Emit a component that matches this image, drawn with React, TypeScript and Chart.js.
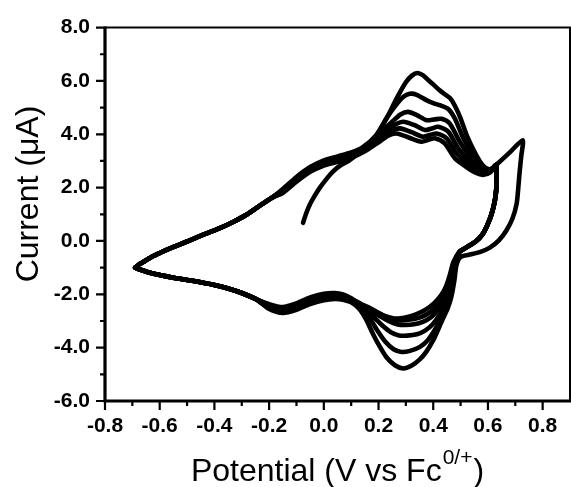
import { useEffect, useRef } from "react";
import { Chart, registerables } from "chart.js";

Chart.register(...registerables);

type Pt = [number, number];

// Axis limits (potential in V, current in µA)
const X_MIN = -0.8;
const X_MAX = 0.9;
const Y_MIN = -6;
const Y_MAX = 8;
const X_MAJOR = [-0.8, -0.6, -0.4, -0.2, 0, 0.2, 0.4, 0.6, 0.8];
const X_MINOR = [-0.7, -0.5, -0.3, -0.1, 0.1, 0.3, 0.5, 0.7];
const Y_MAJOR = [-6, -4, -2, 0, 2, 4, 6, 8];
const Y_MINOR = [-5, -3, -1, 1, 3, 5, 7];

const X_TITLE = "Potential (V vs Fc";
const X_TITLE_SUP = "0/+";
const X_TITLE_END = ")";
const Y_TITLE = "Current (\u03bcA)";

// First sweep, starting from the open-circuit potential
const initialScan: Pt[] = [
  [-0.076, 0.68], [-0.064, 1.05], [-0.051, 1.37], [-0.033, 1.7], [-0.015, 1.99],
  [0.01, 2.33], [0.034, 2.61], [0.06, 2.83], [0.09, 3.0], [0.11, 3.15],
];

// Anodic sweep from the negative vertex, common to cycles 2-6
const anodicLeft: Pt[] = [
  [-0.69, -1.0], [-0.675, -0.88], [-0.65, -0.72], [-0.625, -0.57], [-0.6, -0.45],
  [-0.56, -0.27], [-0.5, -0.02], [-0.44, 0.24], [-0.38, 0.48], [-0.33, 0.72],
  [-0.28, 1.0], [-0.23, 1.35], [-0.19, 1.62],
];

// Oxidation waves, one per cycle
const anodic1: Pt[] = [
  [0.13, 3.32], [0.16, 3.62], [0.193, 3.97], [0.229, 4.59], [0.266, 5.34], [0.3, 5.95],
  [0.322, 6.2], [0.342, 6.3], [0.362, 6.22], [0.38, 6.05], [0.4, 5.87], [0.42, 5.68],
  [0.44, 5.52], [0.462, 5.35], [0.48, 5.05], [0.5, 4.6], [0.522, 3.97], [0.558, 3.2],
  [0.58, 2.85], [0.6, 2.7], [0.615, 2.72], [0.63, 2.85],
];
const anodic2: Pt[] = [
  [-0.15, 1.95], [-0.1, 2.4], [-0.05, 2.77], [0.0, 3.02], [0.05, 3.17], [0.1, 3.32],
  [0.14, 3.5], [0.19, 3.95], [0.229, 4.6], [0.26, 5.05], [0.29, 5.4], [0.314, 5.52],
  [0.34, 5.48], [0.375, 5.28], [0.4, 5.17], [0.424, 5.09], [0.455, 4.95], [0.479, 4.59],
  [0.51, 3.85], [0.552, 3.1], [0.575, 2.78], [0.595, 2.64], [0.615, 2.7], [0.63, 2.85],
];
const anodic3: Pt[] = [
  [-0.15, 1.9], [-0.1, 2.34], [-0.05, 2.71], [0.0, 2.96], [0.05, 3.11], [0.1, 3.27],
  [0.15, 3.52], [0.2, 3.98], [0.25, 4.47], [0.28, 4.74], [0.308, 4.84], [0.34, 4.72],
  [0.375, 4.53], [0.405, 4.56], [0.43, 4.58], [0.46, 4.41], [0.497, 3.72], [0.546, 3.0],
  [0.57, 2.7], [0.59, 2.6], [0.612, 2.66], [0.63, 2.85],
];
const anodic4: Pt[] = [
  [-0.15, 1.87], [-0.1, 2.3], [-0.05, 2.67], [0.0, 2.92], [0.05, 3.07], [0.1, 3.22],
  [0.15, 3.46], [0.2, 3.86], [0.25, 4.3], [0.29, 4.47], [0.33, 4.35], [0.369, 4.16],
  [0.395, 4.22], [0.418, 4.28], [0.455, 4.1], [0.491, 3.48], [0.54, 2.9], [0.565, 2.65],
  [0.588, 2.56], [0.61, 2.63], [0.63, 2.85],
];
const anodic5: Pt[] = [
  [-0.15, 1.84], [-0.1, 2.26], [-0.05, 2.63], [0.0, 2.87], [0.05, 3.02], [0.1, 3.17],
  [0.15, 3.41], [0.2, 3.78], [0.24, 4.1], [0.278, 4.22], [0.32, 4.08], [0.363, 3.91],
  [0.39, 3.98], [0.412, 4.03], [0.449, 3.85], [0.485, 3.29], [0.53, 2.85], [0.56, 2.6],
  [0.585, 2.52], [0.61, 2.6], [0.63, 2.85],
];
const anodic6: Pt[] = [
  [-0.15, 1.8], [-0.1, 2.22], [-0.05, 2.59], [0.0, 2.83], [0.05, 2.97], [0.1, 3.12],
  [0.15, 3.36], [0.2, 3.7], [0.235, 3.95], [0.266, 4.03], [0.31, 3.88], [0.357, 3.72],
  [0.385, 3.8], [0.406, 3.85], [0.442, 3.66], [0.479, 3.1], [0.52, 2.78], [0.555, 2.56],
  [0.582, 2.48], [0.608, 2.57], [0.63, 2.85],
];

// Return sweeps at the positive end: the first cycle runs out to 0.73 V
const reverseOuter: Pt[] = [
  [0.68, 3.32], [0.727, 3.78], [0.722, 3.2], [0.716, 2.6], [0.711, 2.0], [0.705, 1.4],
  [0.69, 0.85], [0.668, 0.4], [0.64, 0.02], [0.607, -0.25], [0.57, -0.42], [0.53, -0.52],
  [0.5, -0.6],
];
const reverseInner: Pt[] = [
  [0.632, 2.4], [0.631, 2.0], [0.625, 1.5], [0.613, 1.0], [0.598, 0.6], [0.58, 0.25],
  [0.555, -0.02], [0.52, -0.25], [0.495, -0.42],
];

// Reduction waves, one per cycle
const cathodic1: Pt[] = [
  [0.485, -0.9], [0.477, -1.5], [0.466, -2.1], [0.452, -2.55], [0.436, -2.9], [0.418, -3.32],
  [0.4, -3.72], [0.375, -4.15], [0.35, -4.45], [0.32, -4.68], [0.29, -4.78], [0.26, -4.66],
  [0.229, -4.36], [0.2, -3.88], [0.178, -3.45], [0.155, -2.95], [0.13, -2.55], [0.1, -2.3],
  [0.07, -2.2], [0.04, -2.17], [0.0, -2.22], [-0.05, -2.37], [-0.1, -2.58], [-0.15, -2.7],
  [-0.2, -2.55],
];
const cathodic2: Pt[] = [
  [0.483, -0.88], [0.473, -1.45], [0.462, -2.02], [0.447, -2.48], [0.428, -2.92], [0.405, -3.35],
  [0.38, -3.72], [0.35, -3.98], [0.315, -4.12], [0.284, -4.16], [0.255, -4.06], [0.225, -3.78],
  [0.195, -3.35], [0.165, -2.85], [0.135, -2.5], [0.1, -2.25], [0.07, -2.15], [0.04, -2.12],
  [0.0, -2.16], [-0.05, -2.3], [-0.1, -2.52], [-0.15, -2.64], [-0.2, -2.5],
];
const cathodic3: Pt[] = [
  [0.48, -0.85], [0.47, -1.4], [0.458, -1.95], [0.442, -2.38], [0.422, -2.78], [0.398, -3.12],
  [0.37, -3.36], [0.34, -3.5], [0.305, -3.55], [0.275, -3.54], [0.245, -3.42], [0.215, -3.18],
  [0.185, -2.88], [0.155, -2.6], [0.125, -2.4], [0.1, -2.22], [0.07, -2.1], [0.04, -2.07],
  [0.0, -2.1], [-0.05, -2.25], [-0.1, -2.47], [-0.15, -2.6], [-0.2, -2.46],
];
const cathodic4: Pt[] = [
  [0.478, -0.83], [0.467, -1.36], [0.455, -1.88], [0.438, -2.25], [0.417, -2.58], [0.392, -2.86],
  [0.362, -3.03], [0.33, -3.12], [0.298, -3.15], [0.27, -3.13], [0.24, -3.02], [0.205, -2.82],
  [0.17, -2.6], [0.14, -2.42], [0.1, -2.2], [0.07, -2.07], [0.04, -2.03], [0.0, -2.06],
  [-0.05, -2.2], [-0.1, -2.42], [-0.15, -2.56], [-0.2, -2.42],
];
const cathodic5: Pt[] = [
  [0.476, -0.8], [0.464, -1.33], [0.45, -1.8], [0.434, -2.13], [0.414, -2.42], [0.39, -2.66],
  [0.36, -2.84], [0.33, -2.93], [0.298, -2.97], [0.265, -2.98], [0.235, -2.88], [0.2, -2.7],
  [0.17, -2.52], [0.14, -2.38], [0.1, -2.17], [0.07, -2.03], [0.04, -1.98], [0.0, -2.02],
  [-0.05, -2.16], [-0.1, -2.38], [-0.15, -2.52], [-0.2, -2.4],
];
const cathodic6: Pt[] = [
  [0.474, -0.78], [0.46, -1.3], [0.446, -1.72], [0.43, -2.02], [0.412, -2.24], [0.39, -2.45],
  [0.365, -2.62], [0.339, -2.74], [0.31, -2.84], [0.28, -2.9], [0.253, -2.9], [0.22, -2.8],
  [0.185, -2.62], [0.15, -2.45], [0.12, -2.3], [0.1, -2.15], [0.07, -2.0], [0.04, -1.95],
  [0.0, -1.98], [-0.05, -2.12], [-0.1, -2.34], [-0.15, -2.48], [-0.2, -2.37],
];

// Cathodic sweep back to the negative vertex, common to all cycles
const cathodicLeft: Pt[] = [
  [-0.25, -2.17], [-0.3, -1.95], [-0.35, -1.78], [-0.4, -1.65], [-0.45, -1.55], [-0.5, -1.46],
  [-0.55, -1.38], [-0.6, -1.28], [-0.64, -1.18], [-0.67, -1.08], [-0.69, -1.0],
];

const cycles: Pt[][] = [
  [...initialScan, ...anodic1, ...reverseOuter, ...cathodic1, ...cathodicLeft],
  [...anodicLeft, ...anodic2, ...reverseInner, ...cathodic2, ...cathodicLeft],
  [...anodicLeft, ...anodic3, ...reverseInner, ...cathodic3, ...cathodicLeft],
  [...anodicLeft, ...anodic4, ...reverseInner, ...cathodic4, ...cathodicLeft],
  [...anodicLeft, ...anodic5, ...reverseInner, ...cathodic5, ...cathodicLeft],
  [...anodicLeft, ...anodic6, ...reverseInner, ...cathodic6, ...cathodicLeft],
];

const FONT = '"Liberation Sans", Arial, Helvetica, sans-serif';
const W = 571;
const H = 487;

// Frame, outward tick marks (major + minor) and axis titles
const framePlugin = {
  id: "cvFrame",
  afterDraw(chart: any) {
    const { ctx, chartArea: a, scales } = chart;
    const xs = scales.x;
    const ys = scales.y;
    ctx.save();
    ctx.strokeStyle = "#000";
    ctx.lineCap = "butt";

    // ticks
    ctx.lineWidth = 2.2;
    ctx.beginPath();
    for (const v of X_MAJOR) {
      const px = xs.getPixelForValue(v);
      ctx.moveTo(px, a.bottom);
      ctx.lineTo(px, a.bottom + 9);
    }
    for (const v of X_MINOR) {
      const px = xs.getPixelForValue(v);
      ctx.moveTo(px, a.bottom);
      ctx.lineTo(px, a.bottom + 5);
    }
    for (const v of Y_MAJOR) {
      const py = ys.getPixelForValue(v);
      ctx.moveTo(a.left, py);
      ctx.lineTo(a.left - 9, py);
    }
    for (const v of Y_MINOR) {
      const py = ys.getPixelForValue(v);
      ctx.moveTo(a.left, py);
      ctx.lineTo(a.left - 5, py);
    }
    ctx.stroke();

    // frame: heavier left/bottom axes, lighter top/right border
    ctx.lineWidth = 2;
    ctx.beginPath();
    ctx.moveTo(a.left, a.top);
    ctx.lineTo(a.right, a.top);
    ctx.lineTo(a.right, a.bottom);
    ctx.stroke();
    ctx.lineWidth = 3.2;
    ctx.beginPath();
    ctx.moveTo(a.left, a.top - 1);
    ctx.lineTo(a.left, a.bottom);
    ctx.lineTo(a.right + 1, a.bottom);
    ctx.stroke();

    // x title with superscript
    ctx.fillStyle = "#000";
    ctx.textBaseline = "alphabetic";
    ctx.textAlign = "left";
    const mainFont = `32px ${FONT}`;
    const supFont = `21px ${FONT}`;
    ctx.font = mainFont;
    const w1 = ctx.measureText(X_TITLE).width;
    const w3 = ctx.measureText(X_TITLE_END).width;
    ctx.font = supFont;
    const w2 = ctx.measureText(X_TITLE_SUP).width;
    const total = w1 + w2 + w3 + 2;
    const cx = (a.left + a.right) / 2;
    const x0 = cx - total / 2;
    const base = 481;
    ctx.font = mainFont;
    ctx.fillText(X_TITLE, x0, base);
    ctx.font = supFont;
    ctx.fillText(X_TITLE_SUP, x0 + w1 + 1, base - 17);
    ctx.font = mainFont;
    ctx.fillText(X_TITLE_END, x0 + w1 + w2 + 2, base);

    // y title
    ctx.translate(38, 194);
    ctx.rotate(-Math.PI / 2);
    ctx.textAlign = "center";
    ctx.font = mainFont;
    ctx.fillText(Y_TITLE, 0, 0);
    ctx.restore();
  },
};

export default function App() {
  const canvasRef = useRef<HTMLCanvasElement | null>(null);

  useEffect(() => {
    const canvas = canvasRef.current;
    if (!canvas) return;
    const chart = new Chart(canvas, {
      type: "scatter",
      data: {
        datasets: cycles.map((pts, k) => ({
          label: `Cycle ${k + 1}`,
          data: pts.map(([x, y]) => ({ x, y })),
          showLine: true,
          borderColor: "#000",
          backgroundColor: "#000",
          borderWidth: 4.6,
          pointRadius: 0,
          tension: 0.25,
          borderJoinStyle: "round" as const,
          borderCapStyle: "round" as const,
        })),
      },
      options: {
        animation: false,
        responsive: false,
        devicePixelRatio: 1,
        layout: { padding: { top: 25, right: 1, left: 0, bottom: 0 } },
        plugins: {
          legend: { display: false },
          tooltip: { enabled: false },
        },
        scales: {
          x: {
            type: "linear",
            min: X_MIN,
            max: X_MAX,
            grid: { display: false, drawTicks: false },
            border: { display: false },
            afterFit: (scale: any) => {
              scale.height = 86;
            },
            ticks: {
              stepSize: 0.2,
              includeBounds: false,
              padding: 13,
              color: "#000",
              maxRotation: 0,
              font: { family: FONT, size: 21, weight: "bold" },
              callback: (v: any) => Number(v).toFixed(1),
            },
          },
          y: {
            type: "linear",
            min: Y_MIN,
            max: Y_MAX,
            grid: { display: false, drawTicks: false },
            border: { display: false },
            afterFit: (scale: any) => {
              scale.width = 105;
            },
            ticks: {
              stepSize: 2,
              padding: 15,
              color: "#000",
              font: { family: FONT, size: 21, weight: "bold" },
              callback: (v: any) => Number(v).toFixed(1),
            },
          },
        },
      },
      plugins: [framePlugin],
    });
    return () => chart.destroy();
  }, []);

  return (
    <div style={{ position: "fixed", left: 0, top: 0, width: W, height: H, background: "#fff" }}>
      <canvas ref={canvasRef} width={W} height={H} style={{ display: "block", width: W, height: H }} />
    </div>
  );
}
